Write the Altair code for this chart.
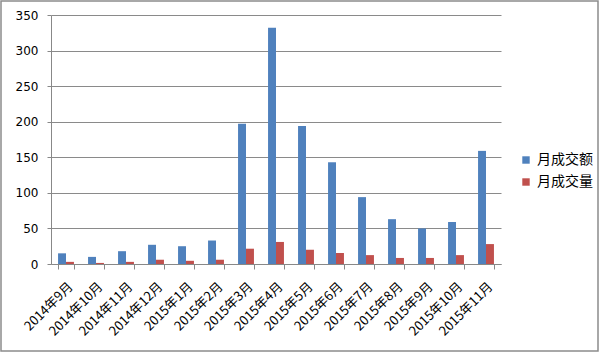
import altair as alt
import pandas as pd

months = ["2014年9月", "2014年10月", "2014年11月", "2014年12月", "2015年1月", "2015年2月",
          "2015年3月", "2015年4月", "2015年5月", "2015年6月", "2015年7月", "2015年8月",
          "2015年9月", "2015年10月", "2015年11月"]
amount = [15, 10, 18, 27, 25, 33, 197, 332, 194, 143, 94, 63, 50, 59, 159]
volume = [3, 1.5, 3, 6, 4.5, 6, 21.5, 31, 20, 15.5, 12.5, 8.5, 8.5, 12.5, 28]
series = ["月成交额", "月成交量"]
colors = ["#4F81BD", "#C0504D"]

rows = []
for m, a, v in zip(months, amount, volume):
    rows.append({"month": m, "series": series[0], "value": a})
    rows.append({"month": m, "series": series[1], "value": v})
df = pd.DataFrame(rows)

font = "Noto Sans CJK SC"

bars = alt.Chart(df).mark_bar().encode(
    x=alt.X("month:N", sort=months, title=None,
            scale=alt.Scale(paddingInner=0.47, paddingOuter=0.235),
            axis=alt.Axis(labelAngle=-45, labelFont=font, labelFontSize=13,
                          labelColor="#000", tickBand="extent", tickSize=5,
                          tickColor="#888", domainColor="#888", labelPadding=11,
                          grid=False)),
    xOffset=alt.XOffset("series:N", sort=series),
    y=alt.Y("value:Q", title=None,
            scale=alt.Scale(domain=[0, 350], nice=False),
            axis=alt.Axis(values=[0, 50, 100, 150, 200, 250, 300, 350],
                          labelFont="DejaVu Sans", labelFontSize=12, labelColor="#000",
                          tickSize=4, tickColor="#888", domainColor="#888",
                          gridColor="#8a8a8a", gridWidth=1, labelPadding=9)),
    color=alt.Color("series:N", sort=series,
                    scale=alt.Scale(domain=series, range=colors),
                    legend=alt.Legend(title=None, orient="none", legendX=468, legendY=138,
                                      symbolType="square", symbolSize=55,
                                      symbolStrokeWidth=0,
                                      labelFont=font, labelFontSize=14, labelColor="#000",
                                      rowPadding=8, labelOffset=4)),
)

border = alt.Chart(pd.DataFrame({"a": [0]})).mark_rect(
    fill=None, stroke="#8c8c8c", strokeWidth=1.5
).encode(x=alt.value(-50), x2=alt.value(547), y=alt.value(-14), y2=alt.value(336))

chart = alt.layer(border, bars).properties(
    width=450, height=249,
    padding={"left": 51, "top": 15, "right": 99, "bottom": 89},
    autosize=alt.AutoSizeParams(type="none"),
    background="white",
).configure_view(stroke=None)

chart.save("out.html", embed_options={"renderer": "svg", "actions": False})
